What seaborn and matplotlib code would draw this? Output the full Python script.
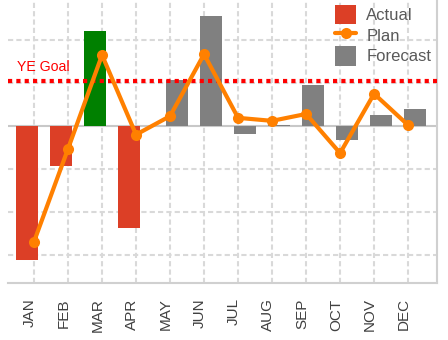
import numpy as np
import pandas as pd
import matplotlib
matplotlib.use("Agg")
import matplotlib.pyplot as plt
import matplotlib.transforms as mtransforms
from matplotlib.patches import Patch
from matplotlib.lines import Line2D
import seaborn as sns

months = ['JAN', 'FEB', 'MAR', 'APR', 'MAY', 'JUN', 'JUL', 'AUG', 'SEP', 'OCT', 'NOV', 'DEC']
actual = [-31.2, -9.3, 22.1, -23.7, None, None, None, None, None, None, None, None]
forecast = [None, None, None, None, 10.7, 25.6, -1.8, 0.3, 9.5, -3.3, 2.6, 4.0]
plan = [-26.9, -5.3, 16.5, -2.0, 2.3, 16.7, 1.9, 1.2, 2.8, -6.3, 7.5, 0.2]
goal = 10.5
goal_label = "YE Goal"

RED = '#DC3F26'
GREEN = '#008000'
GRAY = '#808080'
ORANGE = '#FF8000'

sns.set_theme(style='white')
plt.rcParams['font.family'] = ['Liberation Sans', 'DejaVu Sans']

rows = []
for m, a, f in zip(months, actual, forecast):
    if a is not None:
        rows.append({'month': m, 'series': 'Actual', 'value': a})
    if f is not None:
        rows.append({'month': m, 'series': 'Forecast', 'value': f})
bars = pd.DataFrame(rows)

fig = plt.figure(figsize=(4.48, 3.40), dpi=100)
ax = fig.add_axes([8 / 448, 1 - 283 / 340, (437 - 8) / 448, 283 / 340])

sns.barplot(data=bars, x='month', y='value', hue='series', order=months,
            hue_order=['Actual', 'Forecast'], palette={'Actual': RED, 'Forecast': GRAY},
            dodge=True, width=0.82, saturation=1, legend=False, ax=ax, zorder=2)

bw = 0.65
for p in ax.patches:
    c = p.get_x() + p.get_width() / 2
    p.set_width(bw)
    p.set_x(c - bw / 2)
    p.set_edgecolor('none')
    if c < 3.5 and p.get_height() > 0:
        p.set_facecolor(GREEN)

ax.axhline(goal, color='#FF0000', lw=3, ls=(0, (1, 1)), dash_capstyle='butt', zorder=3)
ax.text(0.022, goal + 1.7, goal_label,
        transform=mtransforms.blended_transform_factory(ax.transAxes, ax.transData),
        color='#FF0000', fontsize=10.2, va='bottom', ha='left')

plan_df = pd.DataFrame({'x': np.arange(len(months)), 'plan': plan})
sns.lineplot(data=plan_df, x='x', y='plan', color=ORANGE, lw=3, marker='o',
             markersize=8, markeredgewidth=0, ax=ax, zorder=4)

ax.axhline(0, color='#c8c8c8', lw=1.5, zorder=1)
for yv in [-30, -20, -10, 10, 20]:
    ax.axhline(yv, color='#d9d9d9', lw=1.5, ls=(0, (2.5, 1.5)), zorder=0)
for xv in range(len(months)):
    ax.axvline(xv, color='#d9d9d9', lw=1.5, ls=(0, (2.5, 1.5)), zorder=0)

ax.set_xlim(-0.765, 11.85)
ax.set_ylim(-36.5, 29.3)
ax.set_xlabel('')
ax.set_ylabel('')
ax.set_yticks([])
ax.set_xticks(range(len(months)))
ax.set_xticklabels(months, rotation=90, fontsize=11, color='#404040')
ax.tick_params(axis='x', length=0, pad=11)
offset = mtransforms.ScaledTranslation(-4 / 100, 0, fig.dpi_scale_trans)
for lbl in ax.get_xticklabels():
    lbl.set_transform(lbl.get_transform() + offset)

for s in ['left', 'top']:
    ax.spines[s].set_visible(False)
for s in ['bottom', 'right']:
    ax.spines[s].set_color('#d0d0d0')
    ax.spines[s].set_linewidth(1.5)

handles = [Patch(facecolor=RED, edgecolor='none'),
           Line2D([0], [0], color=ORANGE, lw=3, marker='o', markersize=8, markeredgewidth=0),
           Patch(facecolor=GRAY, edgecolor='none')]
leg = ax.legend(handles, ['Actual', 'Plan', 'Forecast'], loc='upper left',
                bbox_to_anchor=(333 / 448, 1 - 3 / 340), bbox_transform=fig.transFigure,
                frameon=False, fontsize=12, handlelength=1.3, handleheight=1.45,
                labelspacing=0.05, handletextpad=0.6, borderpad=0.1, borderaxespad=0)
for t in leg.get_texts():
    t.set_color('#595959')

fig.savefig('out.png', dpi=100)
